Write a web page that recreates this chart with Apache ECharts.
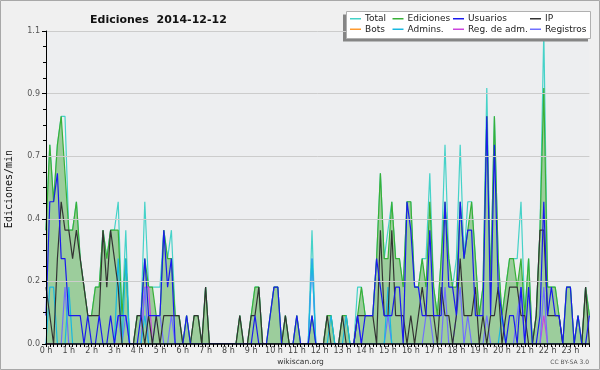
<!DOCTYPE html>
<html>
<head>
<meta charset="utf-8">
<script src="https://cdn.jsdelivr.net/npm/echarts@6/dist/echarts.min.js"></script>
<style>
html,body{margin:0;padding:0;background:#f0f0f0;}
#c{width:600px;height:370px;}
</style>
</head>
<body>
<div id="c"></div>
<script>
// ---- data (edits per minute, 10-minute bins, 144 bins) ----
const hourLabels = ['0 h','1 h','2 h','3 h','4 h','5 h','6 h','7 h','8 h','9 h','10 h','11 h','12 h','13 h','14 h','15 h','16 h','17 h','18 h','19 h','20 h','21 h','22 h','23 h'];
const yTicks = [0, 0.22, 0.44, 0.66, 0.88, 1.1];

const total = [
0.4,0.7,0.5,0.7,0.8,0.8,0.4,0.4,0.5,0.3,0.2,0.1,0.1,0.2,0.2,0.4,0.3,0.4,0.4,0.5,0.1,0.4,0,0,
0.1,0.1,0.5,0.2,0.2,0.2,0.2,0.4,0.3,0.4,0.1,0.1,0,0.1,0,0.1,0.1,0,0.2,0,0,0,0,0,
0,0,0,0.1,0,0,0.1,0.2,0.2,0,0,0.1,0.2,0.2,0,0.1,0,0,0.1,0,0,0,0.4,0,
0,0,0.1,0.1,0,0,0.1,0.1,0,0,0.2,0.2,0.1,0.1,0.1,0.3,0.6,0.3,0.4,0.5,0.3,0.3,0.2,0.5,
0.5,0.2,0.2,0.3,0.3,0.6,0.2,0.1,0.3,0.7,0.3,0.2,0.3,0.7,0.3,0.5,0.5,0.3,0.1,0.2,0.9,0.2,0.8,0.3,
0.1,0.2,0.3,0.3,0.3,0.5,0.1,0.3,0,0.1,0.4,1.1,0.2,0.2,0.2,0.1,0,0.2,0.2,0,0.1,0,0.2,0.1];

const ediciones = [
0.4,0.7,0.5,0.7,0.8,0.6,0.4,0.4,0.5,0.3,0.2,0.1,0.1,0.2,0.2,0.4,0.3,0.4,0.4,0.4,0.1,0.3,0,0,
0.1,0.1,0.3,0.2,0.2,0.1,0.1,0.4,0.3,0.3,0.1,0.1,0,0.1,0,0.1,0.1,0,0.2,0,0,0,0,0,
0,0,0,0.1,0,0,0.1,0.2,0.2,0,0,0.1,0.2,0.2,0,0.1,0,0,0.1,0,0,0,0.1,0,
0,0,0.1,0.1,0,0,0.1,0.1,0,0,0.1,0.2,0.1,0.1,0.1,0.3,0.6,0.3,0.3,0.5,0.3,0.3,0.2,0.5,
0.5,0.2,0.2,0.3,0.2,0.5,0.2,0.1,0.3,0.5,0.3,0.2,0.2,0.5,0.3,0.4,0.5,0.3,0.1,0.2,0.8,0.2,0.8,0.3,
0.1,0.2,0.3,0.3,0.2,0.3,0.1,0.3,0,0.1,0.4,0.9,0.2,0.2,0.2,0.1,0,0.2,0.2,0,0.1,0,0.2,0.1];

const usuarios = [
0.1,0.5,0.5,0.6,0.3,0.3,0.1,0.1,0.1,0.1,0,0.1,0,0,0.1,0,0,0.1,0,0.1,0.1,0.1,0,0,
0,0.1,0.3,0.1,0.1,0.1,0.1,0.4,0.2,0.3,0,0,0,0.1,0,0,0,0,0,0,0,0,0,0,
0,0,0,0,0,0,0,0.1,0,0,0,0.1,0.2,0.2,0,0,0,0,0.1,0,0,0,0.1,0,
0,0,0,0,0,0,0,0,0,0,0.1,0,0.1,0.1,0.1,0.3,0.2,0.1,0.1,0.1,0.2,0.2,0,0.5,
0.4,0.2,0.2,0.1,0.1,0.4,0.1,0.1,0.1,0.5,0.2,0.2,0.1,0.5,0.3,0.4,0.4,0.1,0.1,0.1,0.8,0.1,0.7,0.2,
0.1,0,0.1,0.1,0,0.2,0,0.2,0,0,0.1,0.5,0.1,0.2,0.1,0.1,0,0.2,0.2,0,0.1,0,0,0.1];

const ip = [
0.2,0.1,0,0.3,0.5,0.4,0.4,0.3,0.4,0.3,0.2,0.1,0.1,0.1,0.1,0.4,0.2,0.4,0.3,0.2,0,0,0,0,
0.1,0.1,0,0.1,0,0.1,0,0.1,0.1,0.1,0.1,0.1,0,0,0,0.1,0.1,0,0.2,0,0,0,0,0,
0,0,0,0.1,0,0,0.1,0.1,0.2,0,0,0,0,0,0,0.1,0,0,0,0,0,0,0,0,
0,0,0.1,0,0,0,0.1,0,0,0,0.1,0.1,0.1,0.1,0.1,0,0.4,0.1,0.1,0.4,0.1,0.1,0.1,0,
0.1,0,0.1,0.2,0.1,0.1,0.1,0,0.2,0.1,0.1,0,0.1,0.3,0.1,0.1,0.1,0.2,0,0.1,0,0.1,0.1,0.2,
0,0.1,0.2,0.2,0.2,0.1,0.1,0,0,0.1,0.4,0.4,0.1,0.1,0.1,0.1,0,0,0,0,0,0,0.2,0];

const bots = [
0,0,0,0,0,0,0,0,0,0,0,0,0,0,0,0,0,0,0,0,0,0,0,0,
0,0,0,0,0,0,0,0,0,0,0,0,0,0,0,0,0,0,0,0,0,0,0,0,
0,0,0,0,0,0,0,0,0,0,0,0,0,0,0,0,0,0,0,0,0,0,0,0,
0,0,0,0,0,0,0,0,0,0,0,0,0,0,0,0,0,0,0,0,0,0,0,0,
0,0,0,0,0,0,0,0,0,0,0,0,0,0,0,0,0,0,0,0,0,0,0,0,
0,0,0,0,0,0,0,0,0,0,0,0,0,0,0,0,0,0,0,0,0,0,0,0];

const admins = [
0,0.2,0.2,0,0,0,0.2,0,0,0,0,0,0,0,0,0,0,0,0,0.3,0,0.3,0,0,
0,0,0.1,0,0,0,0,0,0,0,0,0,0,0,0,0,0,0,0,0,0,0,0,0,
0,0,0,0,0,0,0,0,0,0,0,0,0,0,0,0,0,0,0,0,0,0,0.3,0,
0,0,0,0.1,0,0,0,0.1,0,0,0,0,0,0,0,0,0,0,0.2,0,0,0,0,0,
0,0,0,0,0,0,0,0,0,0,0,0,0,0,0,0,0,0,0,0,0,0,0,0,
0.1,0,0,0,0,0,0,0,0,0,0,0,0,0,0,0,0,0,0,0,0,0,0,0];

const regAdm = [
0,0,0,0,0,0,0,0,0,0,0,0,0,0,0,0,0,0,0,0,0,0,0,0,
0,0,0.2,0.2,0,0,0,0,0,0,0,0,0,0,0,0,0,0,0,0,0,0,0,0,
0,0,0,0,0,0,0,0,0,0,0,0,0,0,0,0,0,0,0,0,0,0,0,0,
0,0,0,0,0,0,0,0,0,0,0,0,0,0,0,0,0,0,0,0,0,0,0,0,
0,0,0,0,0,0,0,0,0,0,0,0,0,0,0,0,0,0,0,0,0,0,0,0,
0,0,0,0,0,0,0,0,0,0,0,0.1,0,0,0,0,0,0,0,0,0,0,0,0];

const registros = [
0,0,0,0,0,0.2,0,0,0,0,0,0,0,0,0,0,0,0,0,0.1,0,0.1,0,0,
0,0,0.2,0,0,0.1,0.1,0,0,0.1,0,0,0,0,0,0,0,0,0,0,0,0,0,0,
0,0,0,0,0,0,0,0,0,0,0,0,0,0,0,0,0,0,0,0,0,0,0.3,0,
0,0,0,0,0,0,0,0,0,0,0.1,0,0,0,0,0,0,0,0.1,0,0,0,0,0,
0,0,0,0,0.1,0.1,0,0,0,0.2,0,0,0.1,0.2,0,0.1,0,0,0,0,0.1,0,0,0,
0,0,0,0,0.1,0.2,0,0,0,0,0,0.2,0,0,0,0,0,0,0,0,0,0,0,0];

// categories (10-minute slots)
const slots = [];
for (let h = 0; h < 24; h++) for (let m = 0; m < 60; m += 10) slots.push(h + ':' + (m < 10 ? '0' : '') + m);

const chart = echarts.init(document.getElementById('c'), null, {renderer: 'canvas'});
const F = 'DejaVu Sans';
function ln(name, data, color, z, extra) {
  return Object.assign({
    name: name, type: 'line', data: data, showSymbol: false, symbol: 'none',
    lineStyle: {color: color, width: 1.2}, itemStyle: {color: color}, z: z, animation: false
  }, extra || {});
}
const legendBase = {orient: 'vertical', top: 13.5, itemWidth: 11, itemHeight: 1.5, icon: 'rect',
  itemGap: 0, padding: 0, selectedMode: false, z: 20,
  textStyle: {fontFamily: F, fontSize: 9, color: '#222', lineHeight: 10.5, padding: [0,0,0,-1]}};

chart.setOption({
  backgroundColor: '#f0f0f0',
  animation: false,
  title: {text: 'Ediciones  2014-12-12', left: 85, top: 10,
    textStyle: {fontFamily: F, fontSize: 11, fontWeight: 'bold', color: '#111'}},
  grid: {left: 46, right: 10.6, top: 31, bottom: 26, show: true, backgroundColor: '#edeef0', borderWidth: 0},
  legend: [
    Object.assign({left: 350, data: ['Total', 'Bots']}, legendBase),
    Object.assign({left: 392.5, data: ['Ediciones', 'Admins.']}, legendBase),
    Object.assign({left: 453, data: ['Usuarios', 'Reg. de adm.']}, legendBase),
    Object.assign({left: 530, data: ['IP', 'Registros']}, legendBase)
  ],
  graphic: [
    {type: 'rect', shape: {x: 0.5, y: 0.5, width: 599, height: 369}, style: {fill: 'none', stroke: '#a8a8a8', lineWidth: 1}, z: 0},
    {type: 'rect', shape: {x: 343, y: 14.5, width: 245, height: 27}, style: {fill: '#858585'}, z: 10},
    {type: 'rect', shape: {x: 346.5, y: 11.5, width: 244, height: 27}, style: {fill: '#ffffff', stroke: '#b0b0b0', lineWidth: 1}, z: 11},
    {type: 'text', x: 9, y: 189, rotation: Math.PI / 2, style: {text: 'Ediciones/min', fontFamily: 'DejaVu Sans Mono', fontSize: 10, fill: '#111', align: 'center', verticalAlign: 'middle'}, z: 20},
    {type: 'text', x: 300.5, y: 362, style: {text: 'wikiscan.org', fontFamily: F, fontSize: 7.5, fill: '#333', align: 'center', verticalAlign: 'middle'}, z: 20},
    {type: 'text', x: 589, y: 362.5, style: {text: 'CC BY-SA 3.0', fontFamily: F, fontSize: 6, fill: '#555', align: 'right', verticalAlign: 'middle'}, z: 20}
  ],
  xAxis: {
    type: 'category', data: slots, boundaryGap: false, z: 10,
    axisLine: {lineStyle: {color: '#000', width: 1.5}},
    axisTick: {show: true, interval: 0, length: 3, inside: false, lineStyle: {color: '#000', width: 1}},
    axisLabel: {interval: 0, margin: 3, fontFamily: F, fontSize: 8, color: '#444',
      formatter: function (v, i) { return i % 6 === 0 ? hourLabels[i / 6] : ''; }},
    splitLine: {show: false}
  },
  yAxis: {
    type: 'value', min: yTicks[0], max: yTicks[yTicks.length - 1], interval: yTicks[1], z: 10,
    axisLine: {show: true, lineStyle: {color: '#000', width: 1}},
    axisTick: {show: true, length: 4, lineStyle: {color: '#000'}},
    minorTick: {show: true, splitNumber: 4, length: 3, lineStyle: {color: '#000'}},
    axisLabel: {margin: 6, fontFamily: F, fontSize: 8, color: '#555', formatter: function (v) { return v.toFixed(1); }},
    splitLine: {show: true, lineStyle: {color: '#cccccc', width: 1}}
  },
  series: [
    ln('Total', total, '#45d2c8', 2),
    ln('Ediciones', ediciones, '#38b038', 3, {areaStyle: {color: '#9ccd9c', opacity: 1}}),
    ln('Bots', bots, '#ff9a2e', 3),
    ln('Reg. de adm.', regAdm, '#cc44dd', 4),
    ln('Registros', registros, '#7070ff', 4),
    ln('Admins.', admins, '#18b8e0', 4),
    ln('IP', ip, '#333333', 5),
    ln('Usuarios', usuarios, '#1a1aee', 6)
  ]
});
</script>
</body>
</html>
